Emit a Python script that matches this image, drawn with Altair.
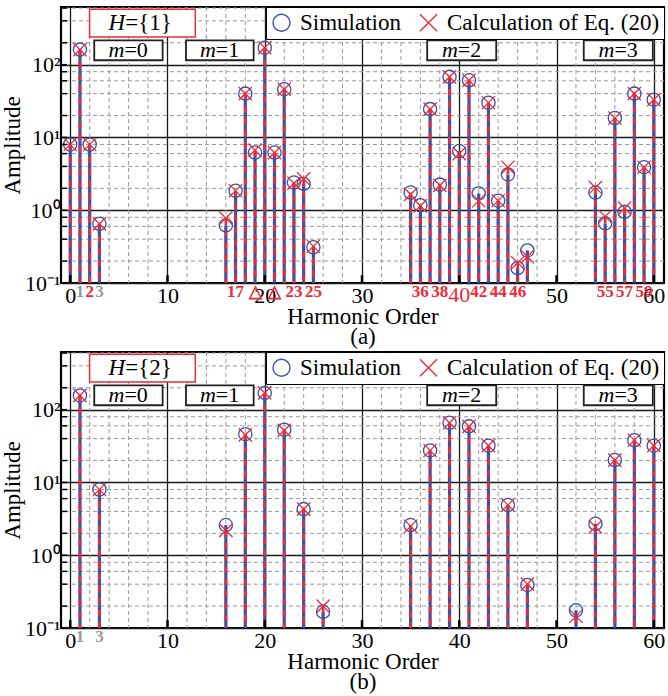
import altair as alt
import pandas as pd

FONT = "Liberation Serif, Times New Roman, serif"
BLUE = "#3553A8"
RED = "#EE2A36"
GREY = "#9B9B9B"
SERIES = ["Simulation", "Calculation of Eq. (20)"]
XPATH = "M-1,-1L1,1M-1,1L1,-1"

# ---- panel (a): H = {1} ----
a_order = [0, 1, 2, 3,
           16, 17, 18, 19, 20, 21, 22, 23, 24, 25,
           35, 36, 37, 38, 39, 40, 41, 42, 43, 44, 45, 46, 47,
           54, 55, 56, 57, 58, 59, 60]
a_sim = [8.0, 161, 8.0, 0.65,
         0.62, 1.85, 40, 6.2, 171, 6.2, 46, 2.4, 2.3, 0.31,
         1.75, 1.17, 24.5, 2.25, 68, 6.5, 61, 1.7, 30, 1.35, 3.1, 0.16, 0.28,
         1.75, 0.66, 18.5, 0.95, 40, 3.9, 33]
a_calc = [8.0, 161, 8.0, 0.65,
          0.78, 1.85, 40, 6.7, 171, 6.2, 46, 2.35, 2.7, 0.32,
          1.65, 1.15, 24.5, 2.2, 68, 6.0, 61, 1.35, 30, 1.35, 3.9, 0.19, 0.23,
          2.05, 0.82, 18.5, 1.07, 40, 3.9, 33]

# ---- panel (b): H = {2} ----
b_order = [1, 3, 16, 18, 20, 22, 24, 26, 35, 37, 39, 41, 43, 45, 47,
           52, 54, 56, 58, 60]
b_sim = [157, 8.0, 2.6, 46, 170, 53, 4.3, 0.167, 2.6, 27.5, 66, 59, 32, 4.9, 0.39,
         0.175, 2.7, 20.3, 38, 32]
b_calc = [157, 8.0, 2.2, 45, 170, 52, 4.3, 0.2, 2.5, 27.5, 66, 59, 32, 4.9, 0.4,
          0.145, 2.45, 20.3, 38, 32]

# highlighted harmonic numbers under the axis
a_red_pos = [2, 17, 19, 21, 23, 25, 36, 38, 42, 44, 46, 55, 57, 59]
a_red_text = ["2", "17", "△", "△", "23", "25", "36", "38", "42", "44", "46", "55", "57", "59"]
a_grey_pos = [1, 3]
a_grey_text = ["1", "3"]
a_big_pos = [40]
a_big_text = ["40"]
b_red_pos = []
b_red_text = []
b_grey_pos = [1, 3]
b_grey_text = ["1", "3"]
b_big_pos = []
b_big_text = []

# sideband group boxes (m = 0..3)
m_text = ["=0", "=1", "=2", "=3"]
m_split = [5.57, 14.97, 39.85, 55.95]
m_left = [2.47, 11.9, 36.7, 52.8]
m_right = [9.5, 18.86, 43.8, 59.9]
m_low, m_high, m_mid = 115, 216, 158
# injected-harmonic box
h_left, h_right, h_split = 1.99, 12.86, 5.65
h_low, h_high, h_mid = 240, 576, 372

x_major = [0, 10, 20, 30, 40, 50, 60]
x_minor = [k for k in range(2, 60, 2) if k % 10]
y_major = [0.1, 1, 10, 100]
y_minor = [0.2, 0.4, 0.6, 0.8, 2, 4, 6, 8, 20, 40, 60, 80, 200, 400, 600]

xs = alt.Scale(domain=[-0.95, 61.05], nice=False, zero=False)
ys = alt.Scale(type="log", domain=[0.1, 620], nice=False, clamp=True)


def panel(order, sim, calc, hset, tag, red_pos, red_text, grey_pos, grey_text,
          big_pos, big_text, hidden_major):
    df = pd.DataFrame({
        "h": order * 2,
        "v": sim + calc,
        "series": [SERIES[0]] * len(order) + [SERIES[1]] * len(order),
    })
    hide = " && ".join([f"datum.value !== {k}" for k in hidden_major]) or "true"
    xaxis = alt.Axis(
        values=x_major,
        labelExpr=f"{hide} ? datum.label : ''",
        ticks=False, domain=False, labelFlush=False, labelOverlap=False,
        labelFont=FONT, labelColor="black", labelPadding=2, labelFontSize=22,
        title=["Harmonic Order", tag], titleFont=FONT, titleFontSize=23,
        titleFontWeight="normal", titleColor="black", titlePadding=-1,
        titleLineHeight=20,
        grid=True, gridColor="#1a1a1a", gridWidth=1.3, gridOpacity=1,
    )
    yaxis = alt.Axis(
        values=y_major,
        labelExpr="datum.value == 100 ? '10²' : datum.value == 10 ? '10¹' : "
                  "datum.value == 1 ? '10⁰' : '10⁻¹'",
        ticks=False, domain=False, labelOverlap=False,
        labelFont=FONT, labelColor="black", labelPadding=1, labelFontSize=22,
        title="Amplitude", titleFont=FONT, titleFontSize=23,
        titleFontWeight="normal", titleColor="black", titlePadding=0,
        grid=True, gridColor="#1a1a1a", gridWidth=1.3, gridOpacity=1,
    )

    # dashed minor grid
    gx = alt.Chart(pd.DataFrame({"h": x_minor})).mark_rule(
        color="#9a9a9a", strokeWidth=1, strokeDash=[4, 3]
    ).encode(x=alt.X("h:Q", scale=xs, axis=xaxis))
    gy = alt.Chart(pd.DataFrame({"v": y_minor})).mark_rule(
        color="#9a9a9a", strokeWidth=1, strokeDash=[4, 3]
    ).encode(y=alt.Y("v:Q", scale=ys, axis=yaxis))

    base = alt.Chart(df)
    stem_blue = base.transform_filter(alt.datum.series == SERIES[0]).mark_rule(
        color=BLUE, strokeWidth=3.2
    ).encode(x="h:Q", y="v:Q", y2=alt.datum(0.1))
    stem_red = base.transform_filter(alt.datum.series == SERIES[1]).mark_rule(
        color=RED, strokeWidth=2.6, strokeDash=[7, 5]
    ).encode(x="h:Q", y="v:Q", y2=alt.datum(0.1))

    leg = alt.Legend(
        title=None, orient="top-right", direction="horizontal", offset=0,
        padding=4, fillColor="white", strokeColor="black",
        labelFont=FONT, labelFontSize=23, labelColor="black", labelLimit=400,
        symbolSize=290, symbolStrokeWidth=1.4, labelOffset=7, columnPadding=16,
    )
    points = base.mark_point(filled=False, size=175, strokeWidth=1.3, opacity=1).encode(
        x="h:Q", y="v:Q",
        color=alt.Color("series:N", scale=alt.Scale(domain=SERIES, range=[BLUE, RED]), legend=leg),
        shape=alt.Shape("series:N", scale=alt.Scale(domain=SERIES, range=["circle", XPATH]), legend=leg),
    )

    # inward ticks along the frame
    xt = alt.Chart(pd.DataFrame({"h": x_major})).mark_rule(color="black", strokeWidth=2.5).encode(
        x="h:Q", y=alt.datum(0.1), y2=alt.datum(0.128))
    yt = alt.Chart(pd.DataFrame({"v": y_minor + y_major})).mark_rule(
        color="black", strokeWidth=1.5).encode(y="v:Q", x=alt.value(0), x2=alt.value(6))

    # group boxes
    mdf = pd.DataFrame({"h": m_left, "h2": m_right, "c": m_split, "t": m_text,
                        "v": [m_low] * 4, "v2": [m_high] * 4, "vm": [m_mid] * 4})
    mbox = alt.Chart(mdf).mark_rect(fill="white", stroke="#222", strokeWidth=1.8).encode(
        x="h:Q", x2="h2", y="v:Q", y2="v2")
    m_it = alt.Chart(mdf).mark_text(text="m", font=FONT, fontSize=22, fontStyle="italic",
                                    align="right", baseline="middle", color="black").encode(
        x="c:Q", y="vm:Q")
    m_eq = alt.Chart(mdf).mark_text(font=FONT, fontSize=22, align="left",
                                    baseline="middle", color="black").encode(
        x="c:Q", y="vm:Q", text="t:N")

    hdf = pd.DataFrame({"h": [h_left], "h2": [h_right], "c": [h_split], "t": [hset],
                        "v": [h_low], "v2": [h_high], "vm": [h_mid]})
    hbox = alt.Chart(hdf).mark_rect(fill="white", stroke=RED, strokeWidth=1.5).encode(
        x="h:Q", x2="h2", y="v:Q", y2="v2")
    h_it = alt.Chart(hdf).mark_text(text="H", font=FONT, fontSize=23, fontStyle="italic",
                                    align="right", baseline="middle", color="black").encode(
        x="c:Q", y="vm:Q")
    h_eq = alt.Chart(hdf).mark_text(font=FONT, fontSize=23, align="left",
                                    baseline="middle", color="black").encode(
        x="c:Q", y="vm:Q", text="t:N")

    layers = [gx, gy, stem_blue, stem_red, points, xt, yt, mbox, m_it, m_eq, hbox, h_it, h_eq]

    def under(pos, txt, color, size, weight, dy):
        d = pd.DataFrame({"h": pos, "t": txt})
        return alt.Chart(d).mark_text(font=FONT, fontSize=size, fontWeight=weight,
                                      color=color, baseline="top", align="center",
                                      dy=dy).encode(x="h:Q", y=alt.datum(0.1), text="t:N")

    if red_pos:
        layers.append(under(red_pos, red_text, RED, 17, "bold", 1))
    if grey_pos:
        layers.append(under(grey_pos, grey_text, GREY, 17, "bold", 1))
    if big_pos:
        layers.append(under(big_pos, big_text, RED, 22, "normal", 2))

    return alt.layer(*layers).properties(width=603, height=276)


top = panel(a_order, a_sim, a_calc, "={1}", "(a)", a_red_pos, a_red_text,
            a_grey_pos, a_grey_text, a_big_pos, a_big_text, [40])
bottom = panel(b_order, b_sim, b_calc, "={2}", "(b)", b_red_pos, b_red_text,
               b_grey_pos, b_grey_text, b_big_pos, b_big_text, [])

chart = alt.vconcat(top, bottom, spacing=0).resolve_legend(
    color="independent", shape="independent"
).properties(
    padding={"left": 0, "top": 5, "right": 0, "bottom": 0},
    background="white",
).configure_view(stroke="black", strokeWidth=2.2)

chart.save("out.html", embed_options={"renderer": "svg", "actions": False})
